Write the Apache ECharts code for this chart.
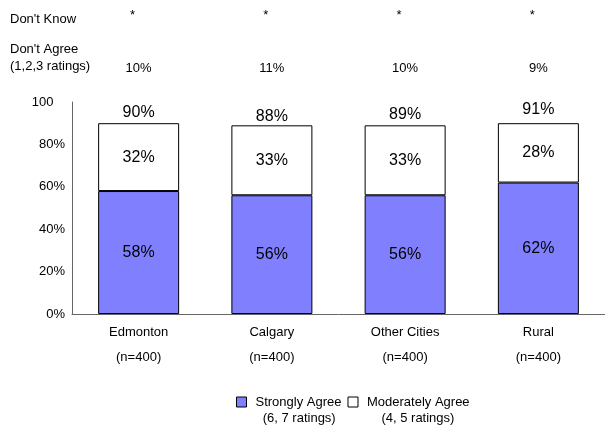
<!DOCTYPE html>
<html>
<head>
<meta charset="utf-8">
<script src="https://cdn.jsdelivr.net/npm/echarts@6/dist/echarts.min.js"></script>
<style>
  html, body { margin: 0; padding: 0; background: #fff; }
  #chart { width: 605px; height: 426px; }
</style>
</head>
<body>
<div id="chart"></div>
<script>
// Agreement by region
const categories = ['Edmonton', 'Calgary', 'Other Cities', 'Rural'];
const sampleSizes = ['(n=400)', '(n=400)', '(n=400)', '(n=400)'];
const stronglyAgree = [58, 56, 56, 62];
const moderatelyAgree = [32, 33, 33, 28];
const totalAgree = [90, 88, 89, 91];
const dontAgree = [10, 11, 10, 9];
const dontKnow = ['*', '*', '*', '*'];
const yTicks = [0, 20, 40, 60, 80, 100];

const FONT = 'Liberation Sans, Arial, sans-serif';
const chart = echarts.init(document.getElementById('chart'), null, { renderer: 'canvas' });

const option = {
  backgroundColor: '#ffffff',
  animation: false,
  textStyle: { fontFamily: FONT, color: '#000' },
  grid: { left: 72, top: 102, width: 537, height: 212, containLabel: false },
  graphic: [
    { type: 'text', left: 10, top: 13, style: { text: "Don't Know", font: '13px ' + FONT, fill: '#000' } },
    { type: 'text', left: 10, top: 41, style: { text: "Don't Agree\n(1,2,3 ratings)", font: '13px ' + FONT, fill: '#000', lineHeight: 17 } }
  ],
  legend: {
    left: 231,
    top: 373,
    itemWidth: 10,
    itemHeight: 10,
    itemGap: 6,
    icon: 'rect',
    selectedMode: false,
    itemStyle: { borderColor: '#000', borderWidth: 1 },
    // leading blank line keeps the swatch level with the first text line
    formatter: name => '\n' + name,
    textStyle: { fontSize: 13, fontFamily: FONT, color: '#000', lineHeight: 16, padding: [0, 0, 0, 4] },
    data: ['Strongly Agree\n  (6, 7 ratings)', 'Moderately Agree\n    (4, 5 ratings)']
  },
  xAxis: [
    {
      type: 'category',
      data: categories,
      axisLine: { lineStyle: { color: '#666', width: 1 } },
      axisTick: { show: false },
      axisLabel: {
        margin: 6,
        fontSize: 13,
        fontFamily: FONT,
        color: '#000',
        lineHeight: 25,
        formatter: (v, i) => v + '\n' + sampleSizes[i]
      }
    },
    {
      type: 'category',
      data: categories,
      position: 'top',
      offset: 19,
      axisLine: { show: false },
      axisTick: { show: false },
      axisLabel: {
        margin: 8,
        fontSize: 13,
        fontFamily: FONT,
        color: '#000',
        formatter: (v, i) => dontAgree[i] + '%'
      }
    },
    {
      type: 'category',
      data: categories,
      position: 'top',
      offset: 72,
      axisLine: { show: false },
      axisTick: { show: false },
      axisLabel: {
        margin: 8,
        fontSize: 13,
        fontFamily: FONT,
        color: '#000',
        padding: [0, 12, 0, 0],
        formatter: (v, i) => dontKnow[i]
      }
    }
  ],
  yAxis: {
    type: 'value',
    min: 0,
    max: 100,
    interval: 20,
    axisLine: { show: true, lineStyle: { color: '#666', width: 1 } },
    axisTick: { show: false },
    splitLine: { show: false },
    axisLabel: {
      margin: 7,
      fontSize: 13,
      fontFamily: FONT,
      color: '#000',
      formatter: v => (yTicks.indexOf(v) < 0 ? '' : (v === 100 ? '100{h|%}' : v + '%')),
      rich: { h: { fontSize: 13, fontFamily: FONT, color: 'rgba(0,0,0,0)' } }
    }
  },
  series: [
    {
      name: 'Strongly Agree\n  (6, 7 ratings)',
      type: 'bar',
      stack: 'agree',
      barWidth: 81,
      data: stronglyAgree,
      itemStyle: { color: '#8080FF', borderColor: '#000', borderWidth: 1 },
      label: { show: true, position: 'inside', fontSize: 16, fontFamily: FONT, color: '#000', formatter: p => p.value + '%' }
    },
    {
      name: 'Moderately Agree\n    (4, 5 ratings)',
      type: 'bar',
      stack: 'agree',
      barWidth: 81,
      data: moderatelyAgree,
      itemStyle: { color: '#FFFFFF', borderColor: '#000', borderWidth: 1 },
      label: { show: true, position: 'inside', fontSize: 16, fontFamily: FONT, color: '#000', formatter: p => p.value + '%' }
    },
    {
      name: 'Total',
      type: 'scatter',
      data: totalAgree,
      symbolSize: 0,
      silent: true,
      itemStyle: { opacity: 1 },
      label: { show: true, position: 'top', distance: 3, fontSize: 16, fontFamily: FONT, color: '#000', formatter: p => p.value + '%' }
    }
  ]
};

chart.setOption(option);
</script>
</body>
</html>
